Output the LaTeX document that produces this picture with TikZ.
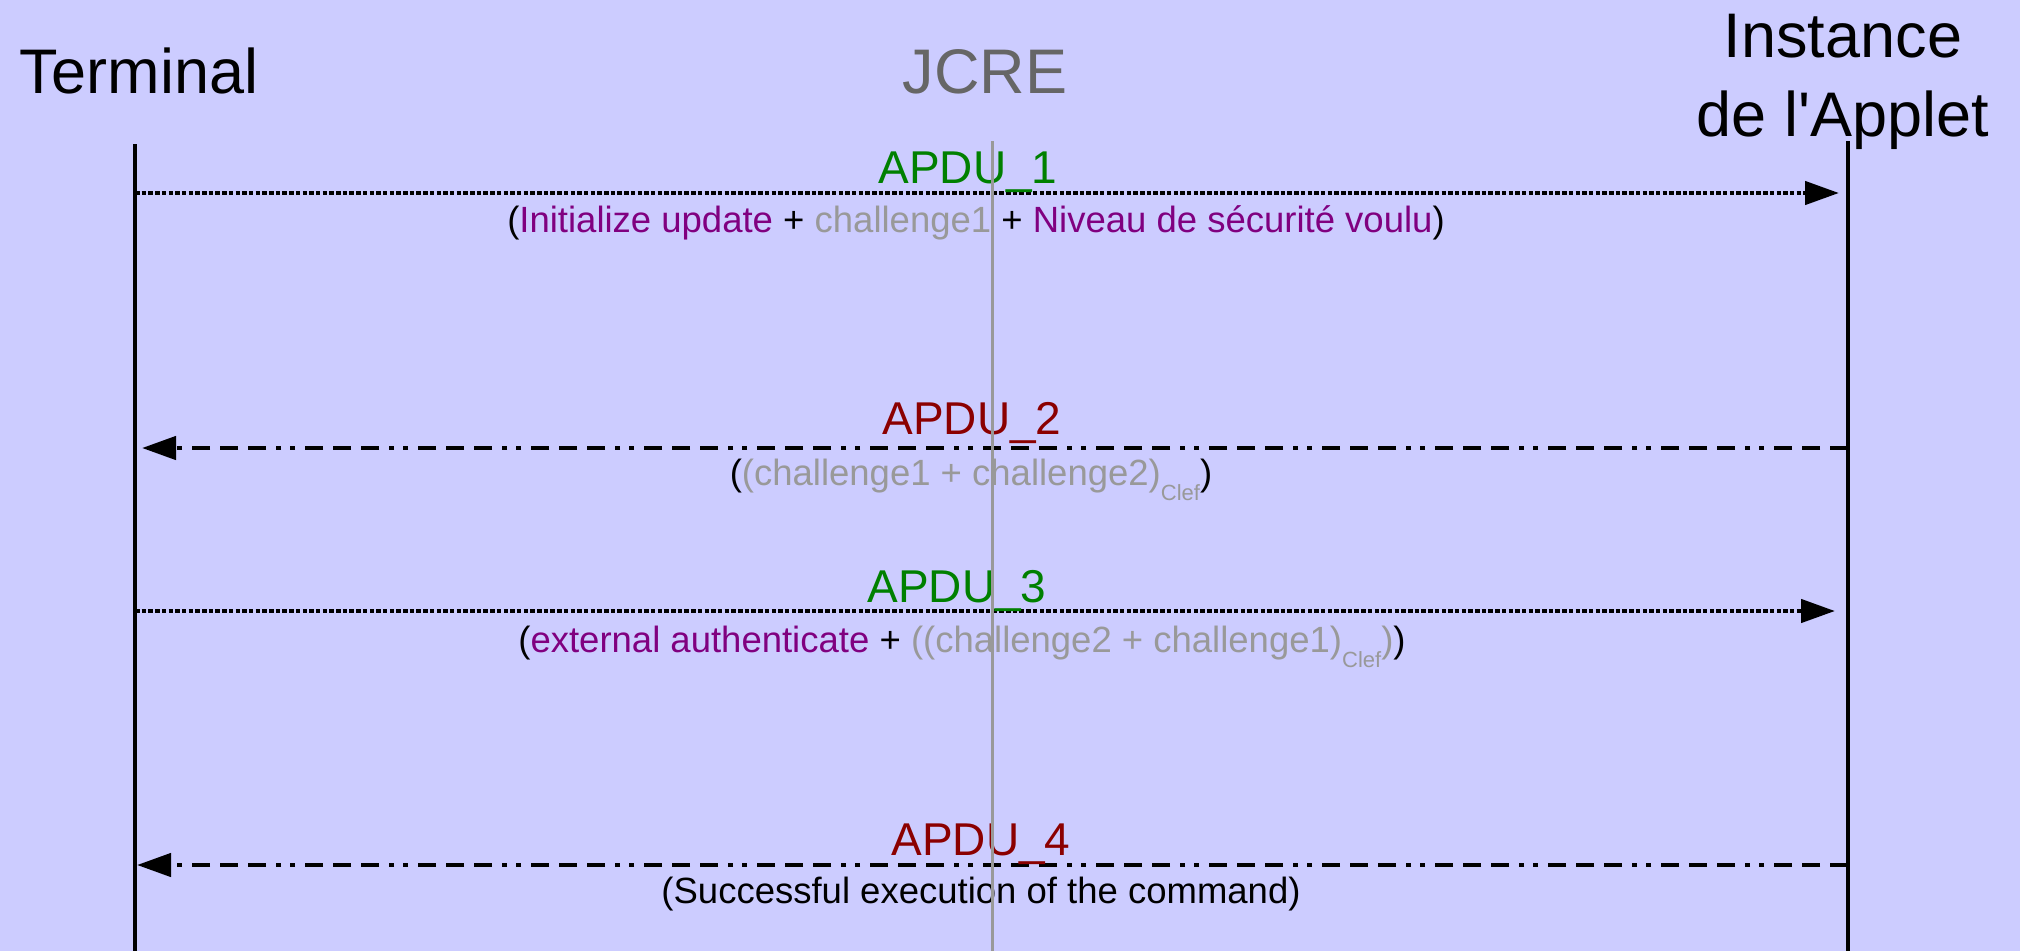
\documentclass[tikz,border=0pt]{standalone}
\usepackage{fontspec}
\setmainfont{Liberation Sans}
\usepackage{xcolor}
\usetikzlibrary{arrows.meta,positioning}
\definecolor{bgviolet}{RGB}{204,204,255}
\definecolor{apdugreen}{RGB}{0,128,0}
\definecolor{apdured}{RGB}{139,0,0}
\definecolor{cmdpurple}{RGB}{128,0,128}
\definecolor{chalgray}{RGB}{153,153,153}
\definecolor{jcregray}{RGB}{102,102,102}
\newcommand{\clefsub}{\raisebox{-15pt}{\fontsize{22}{22}\selectfont Clef}}

\begin{document}
\begin{tikzpicture}[
        x=1pt, y=-1pt,
        actor/.style={
            inner sep=0pt,
            align=center,
            font=\fontsize{63}{79}\selectfont
        },
        lifeline/.style={
            line width=3.5pt,
            color=black
        },
        jcreline/.style={
            line width=3pt,
            color=chalgray
        },
        apdu/.style={
            inner sep=0pt,
            anchor=base,
            font=\fontsize{46}{46}\selectfont
        },
        detail/.style={
            inner sep=0pt,
            anchor=base,
            font=\fontsize{36.5}{40}\selectfont
        },
        request/.style={
            line width=4.5pt,
            dash pattern=on 4.5pt off 2.2pt,
            -{Triangle[length=34pt,width=23pt]}
        },
        response/.style={
            line width=4.5pt,
            dash pattern=on 18pt off 10pt on 18pt off 10pt on 18pt off 10pt on 5pt off 9pt on 5pt off 10pt,
            -{Triangle[length=34pt,width=23pt]}
        }
    ]

    % Background
    \fill[bgviolet] (0,0) rectangle (2020,951);
    \useasboundingbox (0,0) rectangle (2020,951);

    % Actors (top)
    \node[actor, anchor=base] (term) at (139,93) {Terminal};
    \node[actor, anchor=base, text=jcregray] (jcre) at (985,93) {JCRE};
    \node[actor, anchor=north] (applet) at (1843,14) {Instance\\de l\textquotesingle Applet};

    % Lifelines
    \coordinate (term-top) at (135,144);
    \coordinate (term-bot) at (135,951);
    \coordinate (applet-top) at (1848,141);
    \coordinate (applet-bot) at (1848,951);
    \coordinate (jcre-top) at (992,141);
    \coordinate (jcre-bot) at (992,951);
    \draw[lifeline] (term-top) -- (term-bot);
    \draw[lifeline] (applet-top) -- (applet-bot);

    % APDU_1 : Terminal -> Applet
    \coordinate (t1) at (135,193);
    \coordinate (a1) at (1839,193);
    \draw[request] (t1) -- (a1);
    \node[apdu, text=apdugreen] (lbl1) at (968,183) {APDU\_1};
    \node[detail] (det1) at (976,232) {(\textcolor{cmdpurple}{Initialize update} + \textcolor{chalgray}{challenge1} + \textcolor{cmdpurple}{Niveau de sécurité voulu})};

    % APDU_2 : Applet -> Terminal
    \coordinate (a2) at (1848,448);
    \coordinate (t2) at (142,448);
    \draw[response] (a2) -- (t2);
    \node[apdu, text=apdured] (lbl2) at (972,434) {APDU\_2};
    \node[detail] (det2) at (971,485) {(\textcolor{chalgray}{(challenge1 + challenge2)\clefsub})};

    % APDU_3 : Terminal -> Applet
    \coordinate (t3) at (135,611);
    \coordinate (a3) at (1835,611);
    \draw[request] (t3) -- (a3);
    \node[apdu, text=apdugreen] (lbl3) at (957,602) {APDU\_3};
    \node[detail] (det3) at (962,652) {(\textcolor{cmdpurple}{external authenticate} + \textcolor{chalgray}{((challenge2 + challenge1)\clefsub)})};

    % APDU_4 : Applet -> Terminal
    \coordinate (a4) at (1848,865);
    \coordinate (t4) at (137,865);
    \draw[response] (a4) -- (t4);
    \node[apdu, text=apdured] (lbl4) at (981,855) {APDU\_4};
    \node[detail] (det4) at (981,903) {(Successful execution of the command)};

    % JCRE lifeline (drawn over the messages)
    \draw[jcreline] (jcre-top) -- (jcre-bot);

\end{tikzpicture}
\end{document}
